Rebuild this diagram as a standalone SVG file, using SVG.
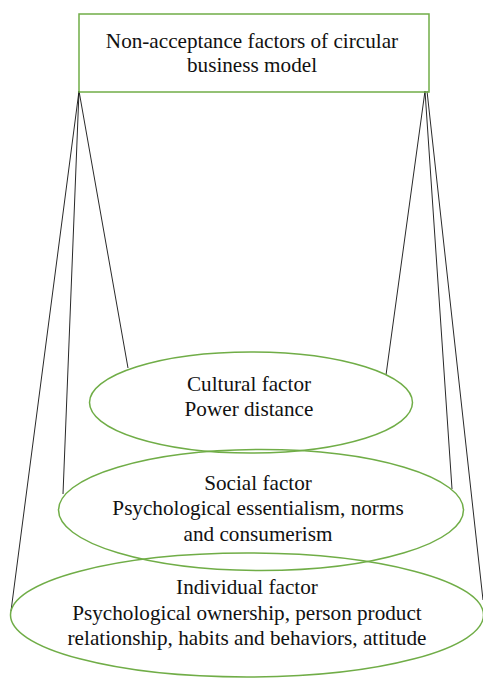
<svg xmlns="http://www.w3.org/2000/svg" width="483" height="678" viewBox="0 0 483 678">
<style>
.node{fill:none;stroke:#70AD47;stroke-width:1.5}
.lbl{font-family:"Liberation Serif","Times New Roman",serif;font-size:21.2px;fill:#111;text-anchor:middle}
.conn{stroke:#111;stroke-width:0.9;fill:none}
</style>
<rect width="483" height="678" fill="#fff"/>
<g id="connectors">
<line class="conn" x1="79" y1="91" x2="128" y2="368"/>
<line class="conn" x1="79" y1="91" x2="63" y2="494"/>
<line class="conn" x1="79" y1="91" x2="11" y2="611"/>
<line class="conn" x1="425" y1="91" x2="386" y2="375"/>
<line class="conn" x1="425" y1="91" x2="452" y2="489"/>
<line class="conn" x1="427" y1="91" x2="483" y2="600"/>
</g>
<g id="root">
<rect class="node" x="79" y="14" width="350" height="78"/>
<text class="lbl" x="252" y="48">Non-acceptance factors of circular</text>
<text class="lbl" x="252" y="72">business model</text>
</g>
<g id="cultural">
<ellipse class="node" cx="251" cy="402.5" rx="161.5" ry="50.5"/>
<text class="lbl" x="249" y="391">Cultural factor</text>
<text class="lbl" x="249" y="416">Power distance</text>
</g>
<g id="social">
<ellipse class="node" cx="261" cy="510" rx="202.5" ry="60.5"/>
<text class="lbl" x="258" y="490">Social factor</text>
<text class="lbl" x="258" y="515">Psychological essentialism, norms</text>
<text class="lbl" x="258" y="541">and consumerism</text>
</g>
<g id="individual">
<ellipse class="node" cx="247" cy="615" rx="236.5" ry="62"/>
<text class="lbl" x="247" y="594">Individual factor</text>
<text class="lbl" x="247" y="620">Psychological ownership, person product</text>
<text class="lbl" x="247" y="645">relationship, habits and behaviors, attitude</text>
</g>
</svg>
